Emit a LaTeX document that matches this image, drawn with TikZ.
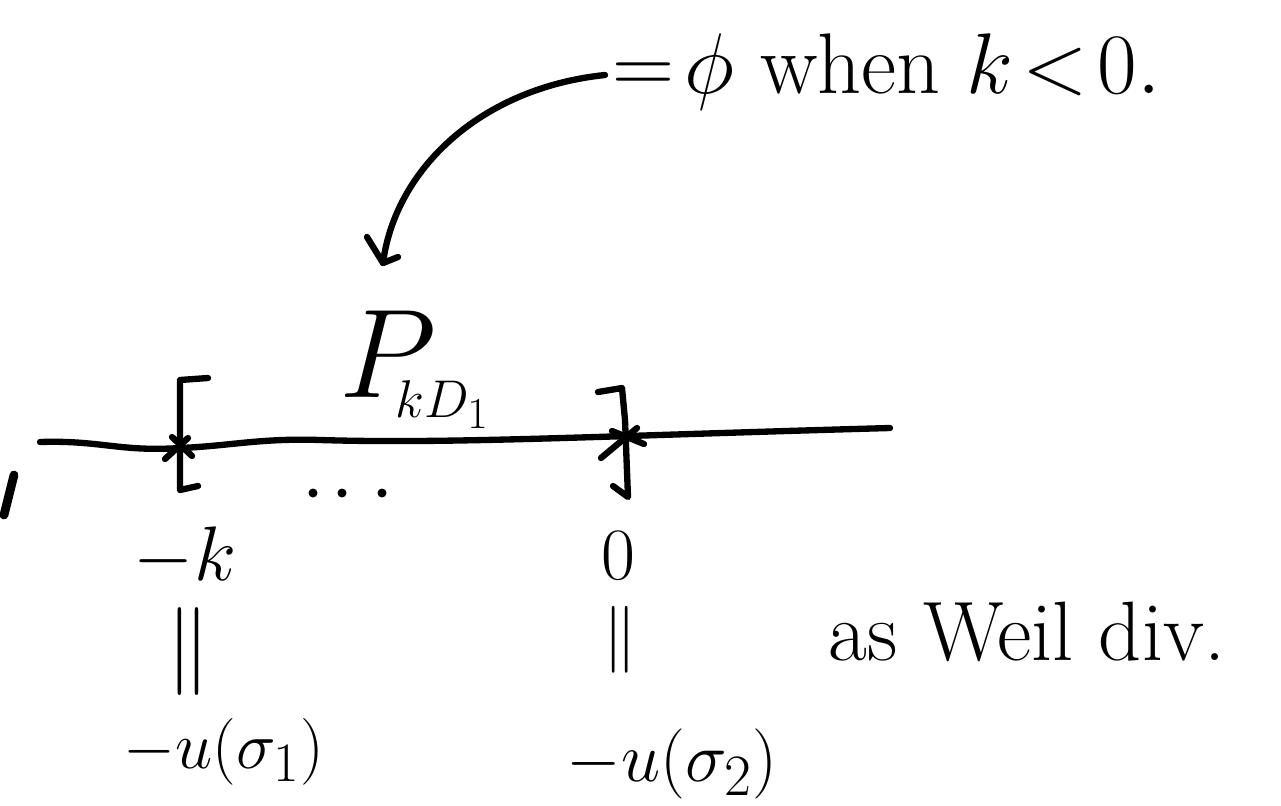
\documentclass[tikz,border=0pt]{standalone}
\usepackage{amsmath}
\usepackage{graphicx}
\begin{document}
\begin{tikzpicture}[x=0.02cm,y=-0.02cm,
  pen/.style={line width=3.6pt,line cap=round,line join=round},
  lbl/.style={inner sep=0pt},
  fs/.style={font=\Huge,scale=#1/24.88,transform shape}]
\useasboundingbox (0,0) rectangle (1281,805);
% main line
\coordinate (L0) at (40,442);
\coordinate (L1) at (890,428);
\draw[pen] (L0) .. controls (100,440) and (120,452) .. (180,448)
  .. controls (230,446) and (260,438) .. (320,440)
  .. controls (450,444) and (600,436) .. (L1);
% left bracket and cross
\coordinate (LB) at (180,447);
\draw[pen] (208,378) -- (180,380) -- (180,490) -- (198,486);
\draw[pen] (165,459) -- (188,438) (172,437) -- (192,456);
% right bracket and cross
\coordinate (RB) at (624,441);
\draw[pen] (598,392) -- (622,388) -- (625,420) -- (628,497) -- (613,486);
\draw[pen] (601,458) -- (637,428) (612,431) -- (644,444);
% dots
\foreach \x in {313,342,382}{\fill (\x,493) circle (4.5);}
% left edge stroke
\draw[pen,line width=5pt] (14,475) -- (4,515);
% labels
\node[lbl,fs=72,anchor=base west] (P) at (338,397)
  {$P$\kern-8pt\raisebox{-4.1pt}{\scalebox{0.42}{$kD_1$}}};
\node[lbl,fs=49,anchor=base west] (top) at (612,93) {$=\!\phi$ when $k\!<\!0.$};
\node[lbl,fs=44,anchor=base] (mk) at (185,580) {$-k$};
\node[lbl,fs=42] (z) at (618,556) {$0$};
\node[lbl,fs=50] (eq1) at (188,652) {$\|$};
\node[lbl,fs=38] (eq2) at (620,640) {$\|$};
\node[lbl,fs=38] (u1) at (224,752) {$-u(\sigma_1)$};
\node[lbl,fs=40] (u2) at (672,764) {$-u(\sigma_2)$};
\node[lbl,fs=48,anchor=base west] (weil) at (828,660) {as Weil div.};
% arrow
\coordinate (aS) at (605,75);
\coordinate (aE) at (383,263);
\draw[pen] (aS) .. controls (480,88) and (395,170) .. (aE);
\draw[pen] (367,237) -- (aE) -- (398,257);
\end{tikzpicture}
\end{document}
